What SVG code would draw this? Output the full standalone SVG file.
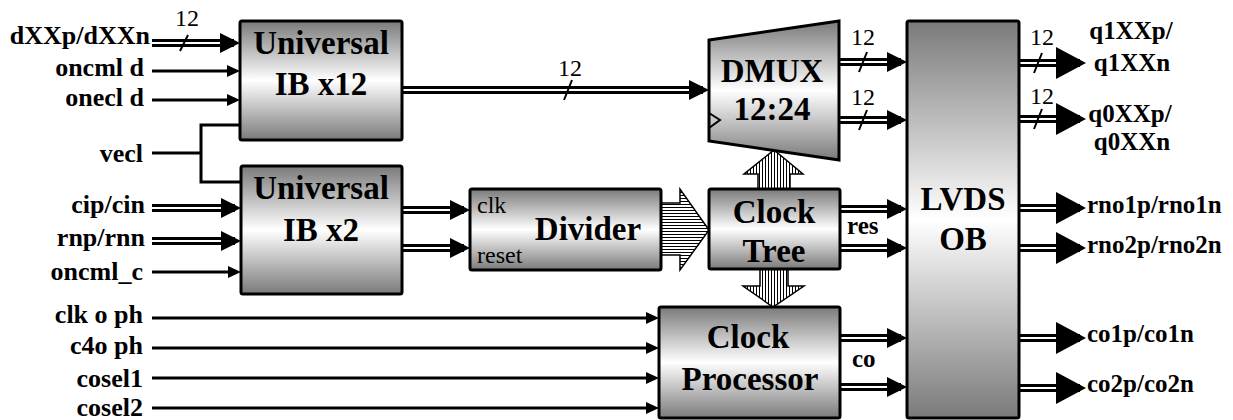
<svg xmlns="http://www.w3.org/2000/svg" width="1233" height="420" viewBox="0 0 1233 420">
<style>
text{font-family:"Liberation Serif","Times New Roman",serif;fill:#000}
.lbl{font-size:25px;font-weight:bold}
.lblL{font-size:26px;font-weight:bold;text-anchor:end}
.big{font-size:33px;font-weight:bold;text-anchor:middle}
.num{font-size:24px;text-anchor:middle}
.small{font-size:24px}
.box{stroke:#000;stroke-width:3;fill:url(#g)}
.sig{fill:none;stroke:#000;stroke-width:3}
.busO{fill:none;stroke:#000;stroke-width:8}
.busI{fill:none;stroke:#fff;stroke-width:2}
.slash{stroke:#000;stroke-width:2}
.hat{stroke:#000;stroke-width:1.5}
</style>
<defs>
<linearGradient id="g" x1="0" y1="0" x2="0" y2="1">
<stop offset="0" stop-color="#7a7a7a"/>
<stop offset="0.5" stop-color="#ffffff"/>
<stop offset="1" stop-color="#7a7a7a"/>
</linearGradient>
<pattern id="hh" width="3" height="3" patternUnits="userSpaceOnUse">
<rect width="3" height="3" fill="#fff"/><rect width="3" height="1" fill="#000"/>
</pattern>
<pattern id="hv" width="3" height="3" patternUnits="userSpaceOnUse">
<rect width="3" height="3" fill="#fff"/><rect width="1" height="3" fill="#000"/>
</pattern>
<marker id="a" markerUnits="userSpaceOnUse" markerWidth="14" markerHeight="13" refX="9" refY="6" orient="auto">
<path d="M0,0 L13,6 L0,12 z" fill="#000"/>
</marker>
<marker id="b" markerUnits="userSpaceOnUse" markerWidth="21" markerHeight="21" refX="14" refY="10" orient="auto">
<path d="M0,0 L20,10 L0,20 z" fill="#000"/>
</marker>
<marker id="c" markerUnits="userSpaceOnUse" markerWidth="31" markerHeight="33" refX="24" refY="16" orient="auto">
<path d="M0,0 L30,16 L0,32 z" fill="#000"/>
</marker>
</defs>

<g id="connectors">
<path class="sig" marker-end="url(#a)" d="M152,71 H236"/>
<path class="sig" marker-end="url(#a)" d="M152,100 H236"/>
<path class="sig" marker-end="url(#a)" d="M152,272 H237"/>
<path class="sig" marker-end="url(#a)" d="M152,318 H655"/>
<path class="sig" marker-end="url(#a)" d="M152,348 H655"/>
<path class="sig" marker-end="url(#a)" d="M152,378 H655"/>
<path class="sig" marker-end="url(#a)" d="M152,408 H655"/>
<path class="sig" d="M152,153 H201 M240,125 H201 V182 H241"/>
<path class="busO" marker-end="url(#b)" d="M152,43 H234"/><path class="busI" d="M152,43 H220"/>
<path class="busO" marker-end="url(#b)" d="M152,208 H235"/><path class="busI" d="M152,208 H221"/>
<path class="busO" marker-end="url(#b)" d="M152,241 H235"/><path class="busI" d="M152,241 H221"/>
<path class="busO" marker-end="url(#b)" d="M402,90 H703"/><path class="busI" d="M402,90 H689"/>
<path class="busO" marker-end="url(#b)" d="M402,210 H464"/><path class="busI" d="M402,210 H450"/>
<path class="busO" marker-end="url(#b)" d="M402,248 H464"/><path class="busI" d="M402,248 H450"/>
<path class="busO" marker-end="url(#b)" d="M839,62 H901"/><path class="busI" d="M839,62 H887"/>
<path class="busO" marker-end="url(#b)" d="M839,120 H901"/><path class="busI" d="M839,120 H887"/>
<path class="busO" marker-end="url(#b)" d="M840,209 H901"/><path class="busI" d="M840,209 H887"/>
<path class="busO" marker-end="url(#b)" d="M840,248 H901"/><path class="busI" d="M840,248 H887"/>
<path class="busO" marker-end="url(#b)" d="M840,338 H901"/><path class="busI" d="M840,338 H887"/>
<path class="busO" marker-end="url(#b)" d="M840,387 H901"/><path class="busI" d="M840,387 H887"/>
<path class="busO" marker-end="url(#c)" d="M1019,63 H1080"/><path class="busI" d="M1019,63 H1056"/>
<path class="busO" marker-end="url(#c)" d="M1019,119 H1080"/><path class="busI" d="M1019,119 H1056"/>
<path class="busO" marker-end="url(#c)" d="M1019,208 H1080"/><path class="busI" d="M1019,208 H1056"/>
<path class="busO" marker-end="url(#c)" d="M1019,248 H1080"/><path class="busI" d="M1019,248 H1056"/>
<path class="busO" marker-end="url(#c)" d="M1019,338 H1080"/><path class="busI" d="M1019,338 H1056"/>
<path class="busO" marker-end="url(#c)" d="M1019,388 H1080"/><path class="busI" d="M1019,388 H1056"/>
<path class="slash" d="M180,51 L188,35 M564,100 L572,80 M859,72 L867,52 M859,130 L867,110 M1034,73 L1042,53 M1034,129 L1042,109"/>
<polygon class="hat" fill="url(#hh)" points="661,203 680,203 680,189 709,230 680,270 680,255 661,255"/>
<polygon class="hat" fill="url(#hv)" points="758,189 758,174 744,174 774,150 803,174 790,174 790,189"/>
<polygon class="hat" fill="url(#hv)" points="760,269 760,286 743,286 773,307 804,286 788,286 788,269"/>
</g>

<g id="labels-in">
<text class="lblL" x="150" y="44">dXXp/dXXn</text>
<text class="lblL" x="144" y="76">oncml  d</text>
<text class="lblL" x="144" y="106">onecl  d</text>
<text class="lblL" x="143" y="162">vecl</text>
<text class="lblL" x="145" y="213">cip/cin</text>
<text class="lblL" x="145" y="246">rnp/rnn</text>
<text class="lblL" x="143" y="280">oncml_c</text>
<text class="lblL" x="143" y="323">clk  o  ph</text>
<text class="lblL" x="143" y="354">c4o  ph</text>
<text class="lblL" x="143" y="387">cosel1</text>
<text class="lblL" x="143" y="416">cosel2</text>
<text class="num" x="187" y="26">12</text>
<text class="num" x="570" y="76">12</text>
<text class="num" x="863" y="45">12</text>
<text class="num" x="863" y="105">12</text>
<text class="num" x="1042" y="45">12</text>
<text class="num" x="1042" y="104">12</text>
<text class="lbl" x="847" y="234">res</text>
<text class="lbl" x="852" y="367">co</text>
</g>

<g id="labels-out">
<text class="lbl" x="1131" y="39" text-anchor="middle">q1XXp/</text>
<text class="lbl" x="1132" y="71" text-anchor="middle">q1XXn</text>
<text class="lbl" x="1130" y="122" text-anchor="middle">q0XXp/</text>
<text class="lbl" x="1132" y="150" text-anchor="middle">q0XXn</text>
<text class="lbl" x="1087" y="213">rno1p/rno1n</text>
<text class="lbl" x="1087" y="253">rno2p/rno2n</text>
<text class="lbl" x="1087" y="342">co1p/co1n</text>
<text class="lbl" x="1087" y="392">co2p/co2n</text>
</g>

<g id="ib12">
<rect class="box" x="240" y="21" width="162" height="119" rx="2"/>
<text class="big" x="321" y="54">Universal</text>
<text class="big" x="321" y="95">IB x12</text>
</g>
<g id="ib2">
<rect class="box" x="241" y="166" width="161" height="128" rx="2"/>
<text class="big" x="321" y="199">Universal</text>
<text class="big" x="321" y="241">IB x2</text>
</g>
<g id="divider">
<rect class="box" x="470" y="189" width="191" height="81" rx="2"/>
<text class="small" x="477" y="213">clk</text>
<text class="small" x="477" y="263">reset</text>
<text class="big" x="588" y="240">Divider</text>
</g>
<g id="dmux">
<polygon class="box" points="709,40 839,21 839,160 709,141"/>
<polyline fill="none" stroke="#000" stroke-width="2" points="709,113 720,120 709,128"/>
<text class="big" x="772" y="82">DMUX</text>
<text class="big" x="772" y="120">12:24</text>
</g>
<g id="clocktree">
<rect class="box" x="709" y="189" width="131" height="80" rx="2"/>
<text class="big" x="774" y="223">Clock</text>
<text class="big" x="774" y="262">Tree</text>
</g>
<g id="clockproc">
<rect class="box" x="659" y="307" width="181" height="111" rx="2"/>
<text class="big" x="748" y="348">Clock</text>
<text class="big" x="750" y="390">Processor</text>
</g>
<g id="lvds">
<rect class="box" x="907" y="21" width="112" height="397" rx="2"/>
<text class="big" x="963" y="210">LVDS</text>
<text class="big" x="963" y="250">OB</text>
</g>
</svg>
